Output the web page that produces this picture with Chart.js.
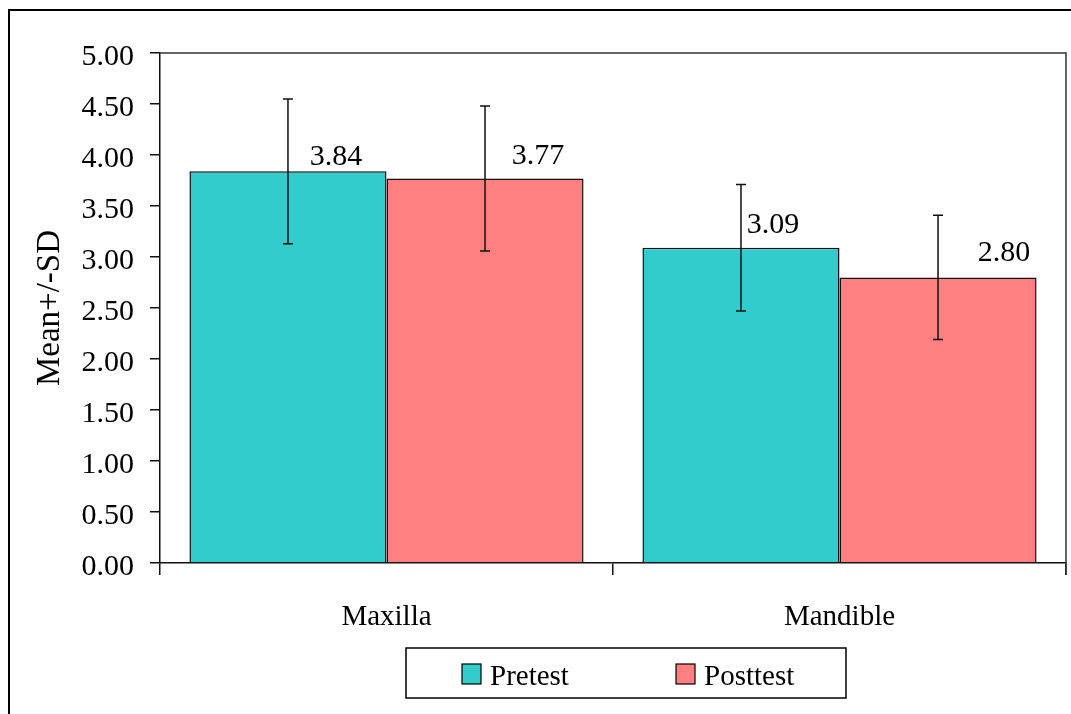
<!DOCTYPE html>
<html>
<head>
<meta charset="utf-8">
<script src="https://cdn.jsdelivr.net/npm/chart.js@4"></script>
<style>
  html, body { margin: 0; padding: 0; background: #fff; }
  #wrap { width: 1071px; height: 714px; }
</style>
</head>
<body>
<div id="wrap"><canvas id="chart" width="1071" height="714"></canvas></div>
<script>
const categories = ['Maxilla', 'Mandible']
const seriesNames = ['Pretest', 'Posttest']
const pretestMeans = [3.84, 3.09]
const posttestMeans = [3.77, 2.80]
const pretestSD = [0.71, 0.62]
const posttestSD = [0.71, 0.61]
const yTicks = [0, 0.5, 1, 1.5, 2, 2.5, 3, 3.5, 4, 4.5, 5]

const colours = ['#33CCCC', '#FF8080']
const font = 'Liberation Serif, Times New Roman, serif'

// where Excel put each value label, relative to the bar centre / bar top
const labelShift = [[[48, 6], [32, 15]], [[53, 14], [66, 16]]]

// outer frame and plot border
const framePlugin = {
  id: 'frame',
  beforeDraw(chart) {
    const ctx = chart.ctx
    ctx.save()
    ctx.fillStyle = '#fff'
    ctx.fillRect(0, 0, chart.width, chart.height)
    ctx.strokeStyle = '#000'
    ctx.lineWidth = 2
    ctx.strokeRect(9, 10, chart.width + 20, chart.height + 20)
    ctx.restore()
  },
  afterDraw(chart) {
    const a = chart.chartArea
    const ctx = chart.ctx
    ctx.save()
    ctx.strokeStyle = '#333'
    ctx.lineWidth = 1.5
    ctx.beginPath()
    ctx.moveTo(a.left, a.top)
    ctx.lineTo(a.right, a.top)
    ctx.lineTo(a.right, a.bottom + 12)
    ctx.stroke()
    ctx.restore()
  }
}

// error bars and value labels
const errorPlugin = {
  id: 'errors',
  afterDatasetsDraw(chart) {
    const ctx = chart.ctx
    const y = chart.scales.y
    const sds = [pretestSD, posttestSD]
    ctx.save()
    for (let d = 0; d < chart.data.datasets.length; d++) {
      const meta = chart.getDatasetMeta(d)
      const vals = chart.data.datasets[d].data
      for (let i = 0; i < meta.data.length; i++) {
        const bar = meta.data[i]
        const top = y.getPixelForValue(vals[i] + sds[d][i])
        const bot = y.getPixelForValue(vals[i] - sds[d][i])
        ctx.strokeStyle = '#111'
        ctx.lineWidth = 1.5
        ctx.beginPath()
        ctx.moveTo(bar.x, top)
        ctx.lineTo(bar.x, bot)
        ctx.moveTo(bar.x - 5, top)
        ctx.lineTo(bar.x + 5, top)
        ctx.moveTo(bar.x - 5, bot)
        ctx.lineTo(bar.x + 5, bot)
        ctx.stroke()

        ctx.fillStyle = '#000'
        ctx.font = '30px ' + font
        ctx.textAlign = 'center'
        ctx.textBaseline = 'alphabetic'
        const s = labelShift[d][i]
        ctx.fillText(vals[i].toFixed(2), bar.x + s[0], bar.y - s[1])
      }
    }
    ctx.restore()
  }
}

// boxed legend under the axis
const legendPlugin = {
  id: 'boxLegend',
  afterDraw(chart) {
    const ctx = chart.ctx
    ctx.save()
    ctx.strokeStyle = '#000'
    ctx.lineWidth = 1.5
    ctx.strokeRect(406, 648, 440, 50)
    const xs = [462, 676]
    ctx.font = '29px ' + font
    ctx.textBaseline = 'alphabetic'
    ctx.textAlign = 'left'
    for (let i = 0; i < seriesNames.length; i++) {
      ctx.fillStyle = colours[i]
      ctx.fillRect(xs[i], 664, 19, 20)
      ctx.lineWidth = 1.2
      ctx.strokeRect(xs[i], 664, 19, 20)
      ctx.fillStyle = '#000'
      ctx.fillText(seriesNames[i], xs[i] + 28, 685)
    }
    ctx.restore()
  }
}

new Chart(document.getElementById('chart').getContext('2d'), {
  type: 'bar',
  data: {
    labels: categories,
    datasets: [
      {label: seriesNames[0], data: pretestMeans, backgroundColor: colours[0], borderColor: '#111', borderWidth: 1.5},
      {label: seriesNames[1], data: posttestMeans, backgroundColor: colours[1], borderColor: '#111', borderWidth: 1.5}
    ]
  },
  options: {
    responsive: false,
    animation: false,
    devicePixelRatio: 1,
    layout: {padding: {left: 0, top: 53, right: 5, bottom: 71}},
    datasets: {bar: {categoryPercentage: 0.87, barPercentage: 1.0}},
    plugins: {legend: {display: false}, tooltip: {enabled: false}},
    scales: {
      x: {
        afterFit(scale) { scale.height = 80 },
        grid: {display: true, drawOnChartArea: false, tickLength: 12, color: '#111', lineWidth: 1.5, offset: true},
        border: {color: '#111', width: 1.5},
        ticks: {color: '#000', padding: 25, font: {family: font, size: 29}}
      },
      y: {
        min: 0,
        max: 5,
        afterFit(scale) { scale.width = 160 },
        afterBuildTicks(scale) { scale.ticks = yTicks.map(v => ({value: v})) },
        grid: {display: true, drawOnChartArea: false, tickLength: 10, color: '#111', lineWidth: 1.5},
        border: {color: '#111', width: 1.5},
        ticks: {color: '#000', padding: 16, labelOffset: 4, font: {family: font, size: 30}, callback: v => Number(v).toFixed(2)},
        title: {display: true, text: 'Mean+/-SD', color: '#000', padding: {top: 31}, font: {family: font, size: 33}}
      }
    }
  },
  plugins: [framePlugin, errorPlugin, legendPlugin]
})
</script>
</body>
</html>
